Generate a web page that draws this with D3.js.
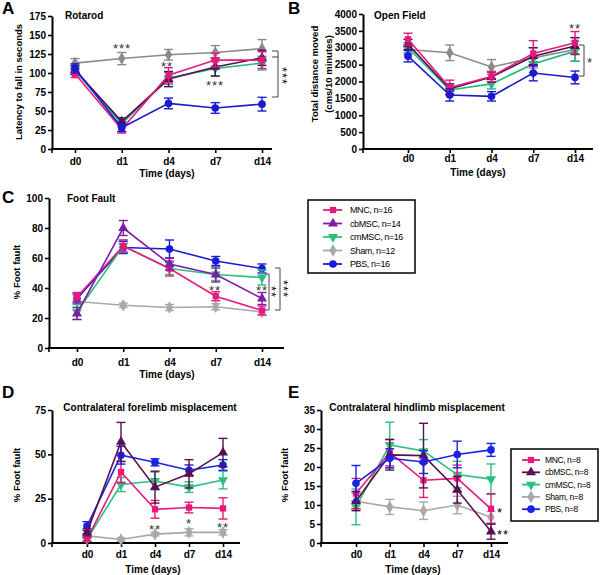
<!DOCTYPE html>
<html><head><meta charset="utf-8">
<script src="https://cdn.jsdelivr.net/npm/d3@7"></script>
<style>
body{margin:0;background:#fff;}
svg text{font-family:"Liberation Sans",Arial,sans-serif;}
</style></head>
<body><svg id="c" width="600" height="575"></svg>
<script>
const days = ["d0","d1","d4","d7","d14"];
const groups = ["MNC","cbMSC","cmMSC","Sham","PBS"];
const legendC = ["MNC, n=16","cbMSC, n=14","cmMSC, n=16","Sham, n=12","PBS, n=16"];
const legendE = ["MNC, n=8","cbMSC, n=8","cmMSC, n=8","Sham, n=8","PBS, n=8"];

// order of rows follows groups
const rotarodMean = [[99,26,97,117,117],[104,36,92,108,120],[103,33,93,106,113],[113,119,124,127,132],[106,28,60,54,59]];
const rotarodErr  = [[5,5,10,9,11],[6,5,10,12,10],[5,4,8,10,9],[6,8,7,9,12],[6,5,7,7,9]];
const openMean = [[3250,1820,2150,2830,3150],[3100,1780,2130,2750,3050],[3000,1750,1930,2520,2900],[2950,2850,2430,2700,2950],[2750,1600,1560,2250,2120]];
const openErr  = [[180,220,150,380,330],[150,150,150,250,250],[150,150,150,250,300],[150,230,220,300,350],[170,180,140,230,190]];
const footMean = [[34,68,53,34.5,25],[23,80,56,49,33],[24,68,53,49,47],[31,28.5,27,27.5,24],[33,67,66,58,53]];
const footErr  = [[3,4,5,3,3],[4,5,4,5,4],[5,4,4,4,5],[4,1.5,2,2,2],[3,4,6,3,3]];
const foreMean = [[2,40,19,20,19.5],[6,57,31.5,39,51],[2,33,35,31.5,35.5],[4,2,5,6,6],[9.5,49.5,45.5,41,44]];
const foreErr  = [[1,6,5,3,6],[2,11,9,8,8],[1,4,5,3,5],[1,1,1,2,1.5],[2.5,5,2,3,3]];
const hindMean = [[13,23.8,16.5,17,9],[11,23.2,23,14,3],[9.5,25.8,24.2,18,16.8],[11,9.5,8.5,10,6.8],[15.7,22.3,21.3,23.3,24.5]];
const hindErr  = [[4,3.5,4.5,3.5,4],[2.5,4,8.5,3.5,2],[4.7,6,3,3.5,4],[2,2,2.3,2.3,1.5],[4.7,2.5,3,3.5,1.7]];

const colorsDark = ["#e8197c","#4b1058","#20b97a","#8a8a8a","#1a1ad0"];
const colorsC    = ["#e8197c","#7d1fa6","#2cc07f","#a8a8a8","#1a1ad6"];
const colorsDE   = ["#e8197c","#5a1050","#2cc07f","#a8a8a8","#1a22e6"];
const symbols = [d3.symbolSquare, d3.symbolTriangle, d3.symbolTriangle, d3.symbolDiamond, d3.symbolCircle];
const symRot  = [0,0,180,0,0];
const symSize = [40,44,44,46,46];

const svg = d3.select("#c");

function panel(o){
  const g = svg.append("g");
  const x = d3.scalePoint().domain(days).range(o.xr);
  const y = d3.scaleLinear().domain([0,o.ymax]).range(o.yr);
  const ya = g.append("g").attr("transform",`translate(${o.x0},0)`)
    .call(d3.axisLeft(y).tickValues(d3.range(0,o.ymax+1e-9,o.step)).tickFormat(d3.format("d")).tickSize(4).tickPadding(2).tickSizeOuter(0));
  ya.select(".domain").attr("stroke-width",2);
  ya.selectAll(".tick line").attr("stroke-width",1.6);
  ya.selectAll(".tick text").attr("font-size",10).attr("font-weight","bold").attr("font-family","Liberation Sans, Arial");
  const xa = g.append("g").attr("transform",`translate(0,${o.yr[0]})`)
    .call(d3.axisBottom(x).tickSize(4).tickPadding(o.xpad).tickSizeOuter(0));
  xa.select(".domain").remove();
  xa.append("line").attr("x1",o.x0-1).attr("x2",o.xend).attr("stroke","#000").attr("stroke-width",2);
  xa.append("line").attr("x1",o.x0).attr("x2",o.x0).attr("y1",0).attr("y2",4).attr("stroke","#000").attr("stroke-width",1.6);
  xa.selectAll(".tick line").attr("stroke-width",1.6);
  xa.selectAll(".tick text").attr("font-size",10).attr("font-weight","bold").attr("font-family","Liberation Sans, Arial");
  o.order.forEach(gi=>{
    const col = o.colors[gi];
    const mean = o.mean[gi], err = o.err[gi];
    const pts = days.map((d,i)=>({d,v:mean[i],e:err[i]}));
    const sg = g.append("g");
    sg.append("path").datum(pts)
      .attr("d", d3.line().x(p=>x(p.d)).y(p=>y(p.v)))
      .attr("fill","none").attr("stroke",col).attr("stroke-width",1.6);
    pts.forEach(p=>{
      const xc = x(p.d), y1 = y(p.v+p.e), y2 = y(Math.max(0,p.v-p.e));
      sg.append("line").attr("x1",xc).attr("x2",xc).attr("y1",y1).attr("y2",y2).attr("stroke",col).attr("stroke-width",1.4);
      [y1,y2].forEach(yy=>sg.append("line").attr("x1",xc-4.5).attr("x2",xc+4.5).attr("y1",yy).attr("y2",yy).attr("stroke",col).attr("stroke-width",1.4));
      sg.append("path").attr("d",d3.symbol().type(symbols[gi]).size(symSize[gi])())
        .attr("transform",`translate(${xc},${y(p.v)}) rotate(${symRot[gi]})`).attr("fill",col);
    });
  });
  return {x,y,g};
}

function txt(x,y,s,opt={}){
  const t = svg.append("text").attr("x",x).attr("y",y).text(s)
    .attr("font-size",opt.size||10).attr("font-weight",opt.weight||"bold")
    .attr("text-anchor",opt.anchor||"start").attr("fill",opt.fill||"#000");
  if(opt.rot) t.attr("transform",`rotate(${opt.rot},${x},${y})`);
  if(opt.ls) t.attr("letter-spacing",opt.ls);
  return t;
}
function stars(x,y,s){
  svg.append("text").attr("x",x).attr("y",y).text(s).attr("font-size",13)
    .attr("text-anchor","middle").attr("fill","#333").attr("letter-spacing",1);
}
// rotated asterisks beside a bracket, centred at (x, cy)
function vstars(x,cy,s){
  svg.append("text").attr("x",cy).attr("y",-x+7.5).text(s).attr("font-size",13)
    .attr("text-anchor","middle").attr("fill","#111").attr("letter-spacing",1)
    .attr("transform","rotate(90)").style("opacity",0.999);
}
function bracket(x,yt,yb,len){
  svg.append("path").attr("d",`M${x-len},${yt}H${x}V${yb}H${x-len}`).attr("fill","none").attr("stroke","#444").attr("stroke-width",1);
}

// Panel A
panel({x0:52,xend:272,xr:[75,262],yr:[149,16],ymax:175,step:25,mean:rotarodMean,err:rotarodErr,colors:colorsDark,order:[3,2,1,0,4],xpad:5});
txt(2,14,"A",{size:17});
txt(65,19,"Rotarod");
txt(22,82,"Latency to fall in seconds",{anchor:"middle",rot:-90,size:9.5});
txt(167,177,"Time (days)",{anchor:"middle"});
stars(122,53,"***"); stars(167,71,"**"); stars(215,90,"***");
bracket(278,51,97,6); svg.append("line").attr("x1",272).attr("x2",278).attr("y1",57).attr("y2",57).attr("stroke","#444");
vstars(285,76,"***");

// Panel B
panel({x0:363,xend:593,xr:[408,575],yr:[149,14],ymax:4000,step:500,mean:openMean,err:openErr,colors:colorsDark,order:[3,2,1,0,4],xpad:2});
txt(288,14,"B",{size:17});
txt(374,19,"Open Field");
txt(318,74,"Total distance moved",{anchor:"middle",rot:-90,size:9.5});
txt(332,74,"(cms/10 minutes)",{anchor:"middle",rot:-90,size:9.5});
txt(478,176,"Time (days)",{anchor:"middle"});
stars(575,33,"**");
bracket(584,45,76,5);
stars(590,67,"*");

// Panel C
panel({x0:49,xend:284,xr:[77,262],yr:[348,198],ymax:100,step:20,mean:footMean,err:footErr,colors:colorsC,order:[3,4,2,0,1],xpad:7});
txt(2,203,"C",{size:17});
txt(67,202,"Foot Fault");
txt(20,272,"% Foot fault",{anchor:"middle",rot:-90,size:9.5});
txt(167,378,"Time (days)",{anchor:"middle"});
stars(215,295,"**"); stars(262,295,"**");
bracket(269,274,310,4); vstars(274,292,"**");
bracket(280,268,310,5); vstars(286,289,"***");

// Legend C
svg.append("rect").attr("x",308).attr("y",200).attr("width",107).attr("height",73).attr("fill","#fff").attr("stroke","#000").attr("stroke-width",1.5);
legendC.forEach((s,i)=>{
  const yy = 210 + i*13.5;
  svg.append("line").attr("x1",323).attr("x2",342).attr("y1",yy).attr("y2",yy).attr("stroke",colorsC[i]).attr("stroke-width",1.8);
  svg.append("path").attr("d",d3.symbol().type(symbols[i]).size(symSize[i])()).attr("transform",`translate(333,${yy}) rotate(${symRot[i]})`).attr("fill",colorsC[i]);
  txt(350,yy+3.3,s,{size:9,weight:"normal",ls:-0.4});
});

// Panel D
panel({x0:52,xend:240,xr:[87,223],yr:[543,410],ymax:75,step:25,mean:foreMean,err:foreErr,colors:colorsDE,order:[3,2,0,4,1],xpad:4});
txt(2,398,"D",{size:17});
txt(150,411,"Contralateral forelimb misplacement",{anchor:"middle"});
txt(20,475,"% Foot fault",{anchor:"middle",rot:-90,size:9.5});
txt(153,573,"Time (days)",{anchor:"middle"});
stars(155,534,"**"); stars(189,528,"*"); stars(223,532,"**");

// Panel E
panel({x0:321,xend:508,xr:[356,491],yr:[543,410],ymax:35,step:5,mean:hindMean,err:hindErr,colors:colorsDE,order:[3,2,0,1,4],xpad:4});
txt(288,398,"E",{size:17});
txt(417,411,"Contralateral hindlimb misplacement",{anchor:"middle"});
txt(288,475,"% Foot fault",{anchor:"middle",rot:-90,size:9.5});
txt(413,573,"Time (days)",{anchor:"middle"});
txt(497,517,"*",{size:13,weight:"normal"});
txt(497,539,"**",{size:13,weight:"normal",ls:1});

// Legend E
svg.append("rect").attr("x",511).attr("y",449).attr("width",87).attr("height",72).attr("fill","#fff").attr("stroke","#000").attr("stroke-width",1.5);
legendE.forEach((s,i)=>{
  const yy = 460 + i*12.3;
  svg.append("line").attr("x1",522).attr("x2",540).attr("y1",yy).attr("y2",yy).attr("stroke",colorsDE[i]).attr("stroke-width",1.8);
  svg.append("path").attr("d",d3.symbol().type(symbols[i]).size(symSize[i])()).attr("transform",`translate(531,${yy}) rotate(${symRot[i]})`).attr("fill",colorsDE[i]);
  txt(545,yy+3,s,{size:8.5,weight:"normal",ls:-0.4});
});
</script></body></html>
